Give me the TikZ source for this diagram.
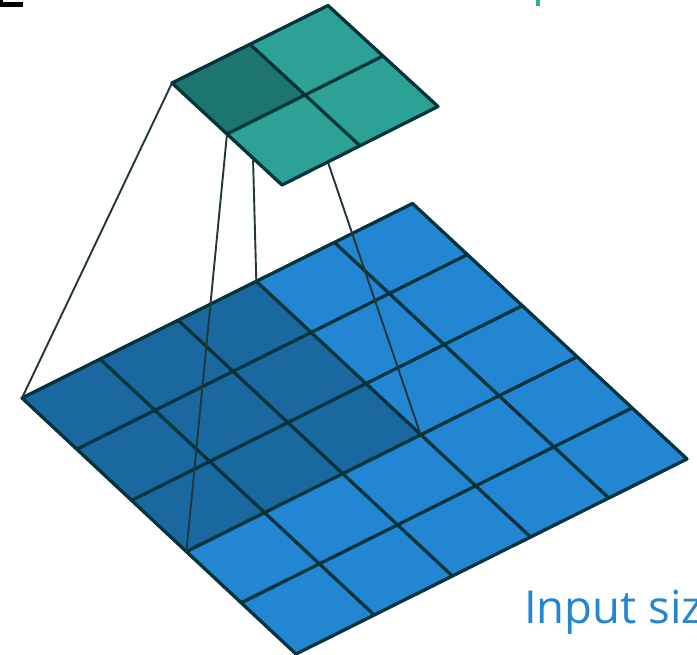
\documentclass[tikz,border=0pt]{standalone}
\usepackage{fontspec}
\usetikzlibrary{calc}
\setmainfont{Open Sans}
\definecolor{bluecell}{HTML}{2386D2}
\definecolor{bluedark}{HTML}{19689F}
\definecolor{greencell}{HTML}{2CA296}
\definecolor{greendark}{HTML}{1D7570}
\definecolor{gridline}{HTML}{03343C}
\definecolor{linkline}{HTML}{23363B}
\definecolor{tealmark}{HTML}{2CA89C}
\tikzset{
  gridstroke/.style={draw=gridline,line width=3.3pt,line join=round,line cap=round},
  linkstroke/.style={draw=linkline,line width=1.9pt,line cap=round},
  caption/.style={anchor=base west,inner sep=0pt,font=\fontsize{45.5}{45.5}\selectfont,text=bluecell}
}
\begin{document}
\begin{tikzpicture}[x=1pt,y=-1pt]
\useasboundingbox (0,0) rectangle (697,655);
\clip (0,0) rectangle (697,655);
\fill[white] (0,0) rectangle (697,655);
% clipped fragments at the top edge
\fill[black] (0,2.5) rectangle (23,7);
\fill[black] (0,0) rectangle (3,3);
\fill[tealmark] (535.5,0) rectangle (540,6);
% input grid
\coordinate (bL) at (22,398);
\coordinate (bT) at (412.5,203.5);
\coordinate (bR) at (687,459);
\coordinate (bB) at (296,654);
\coordinate (dT) at ($(bL)!0.6!(bT)$);
\coordinate (dB) at ($(bL)!0.6!(bB)$);
\coordinate (dR) at ($(dT)+(dB)-(bL)$);
\fill[bluecell] (bL)--(bT)--(bR)--(bB)--cycle;
\fill[bluedark] (bL)--(dT)--(dR)--(dB)--cycle;
\foreach \t in {0.2,0.4,0.6,0.8}{
  \draw[gridstroke] ($(bL)!\t!(bT)$) -- ($(bB)!\t!(bR)$);
  \draw[gridstroke] ($(bL)!\t!(bB)$) -- ($(bT)!\t!(bR)$);
}
\draw[gridstroke] (bL)--(bT)--(bR)--(bB)--cycle;
% output grid corners
\coordinate (gL) at (172,83);
\coordinate (gT) at (328,5.5);
\coordinate (gR) at (438,106.5);
\coordinate (gB) at (282,185);
\coordinate (gC) at ($(gL)!0.5!(gR)$);
\coordinate (gLT) at ($(gL)!0.5!(gT)$);
\coordinate (gLB) at ($(gL)!0.5!(gB)$);
\coordinate (gTR) at ($(gT)!0.5!(gR)$);
\coordinate (gBR) at ($(gB)!0.5!(gR)$);
% links
\draw[linkstroke] (gL) -- (bL);
\draw[linkstroke] (gLB) -- (dB);
\draw[linkstroke] (gLT) -- (dT);
\draw[linkstroke] (gC) -- (dR);
% output grid
\fill[greencell] (gL)--(gT)--(gR)--(gB)--cycle;
\fill[greendark] (gL)--(gLT)--(gC)--(gLB)--cycle;
\draw[gridstroke] (gLT) -- (gBR);
\draw[gridstroke] (gLB) -- (gTR);
\draw[gridstroke] (gL)--(gT)--(gR)--(gB)--cycle;
% caption
\node[caption] (cap) at (524,623) {Input siz};
\end{tikzpicture}
\end{document}
